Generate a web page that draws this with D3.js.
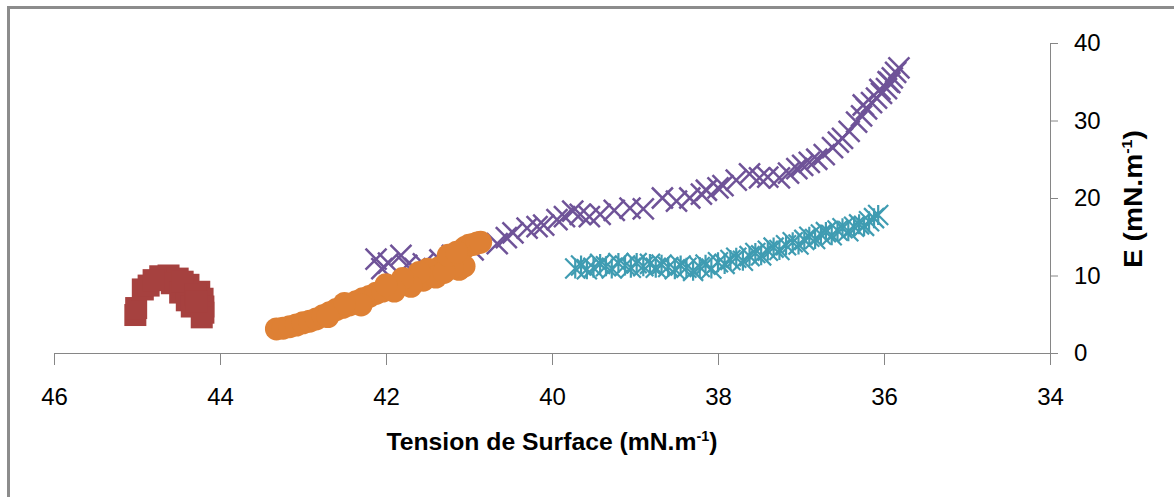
<!DOCTYPE html>
<html><head><meta charset="utf-8">
<script src="https://cdn.jsdelivr.net/npm/d3@7"></script>
<style>
html,body{margin:0;padding:0;background:#fff;}
svg{display:block;}
</style></head>
<body>
<svg id="c" width="1174" height="497"></svg>
<script>
// ---- data (Tension de Surface, E) ----
const xTicks = [46, 44, 42, 40, 38, 36, 34];
const yTicks = [0, 10, 20, 30, 40];
const xTitle = "Tension de Surface (mN.m";
const yTitle = "E (mN.m";

const redT = [45.02, 45.01, 44.93, 44.86, 44.72, 44.62, 44.51, 44.38, 44.25, 44.58, 44.48, 44.40, 44.34, 44.21, 44.20, 44.20, 44.22, 44.45, 44.30, 44.28, 44.80];
const redE = [4.9, 5.8, 8.2, 8.7, 9.9, 10.0, 9.6, 8.8, 7.9, 9.0, 7.8, 6.8, 6.0, 7.0, 6.0, 5.2, 4.6, 9.2, 7.5, 6.6, 9.4];

const orangeT = [43.32, 43.24, 43.16, 43.08, 43.00, 42.92, 42.84, 42.76, 42.68, 42.60, 42.52, 42.44, 42.36, 42.28, 42.20, 42.12, 42.04, 41.96, 41.88, 41.80, 41.72, 41.64, 41.56, 41.48, 41.42, 41.36, 41.30, 41.24, 41.18, 41.13, 41.09, 41.05, 41.00, 40.95, 40.90, 40.86, 41.12, 41.06, 41.20, 41.55, 41.50, 41.40, 41.60, 41.70, 41.80, 41.90, 42.00, 41.30, 41.25, 41.15, 42.30, 42.50, 42.70];
const orangeE = [3.1, 3.2, 3.4, 3.6, 3.9, 4.1, 4.4, 4.8, 5.2, 5.6, 5.9, 6.2, 6.6, 7.0, 7.3, 7.7, 8.0, 8.4, 8.7, 9.0, 9.3, 9.6, 9.9, 10.3, 10.6, 11.0, 11.3, 11.7, 12.0, 12.6, 13.2, 13.6, 13.9, 14.0, 14.2, 14.3, 10.8, 11.2, 11.0, 9.4, 10.8, 9.8, 10.4, 8.6, 9.6, 8.0, 8.8, 10.4, 12.6, 13.0, 6.2, 6.4, 4.7];

const purpleT = [42.12, 42.05, 41.97, 41.82, 41.75, 41.65, 41.55, 41.35, 41.20, 40.95, 40.66, 40.55, 40.47, 40.30, 40.18, 40.10, 39.94, 39.85, 39.75, 39.66, 39.55, 39.42, 39.25, 39.06, 38.90, 38.67, 38.50, 38.34, 38.20, 38.14, 38.00, 37.94, 37.78, 37.62, 37.50, 37.40, 37.26, 37.15, 37.05, 36.98, 36.90, 36.81, 36.72, 36.62, 36.55, 36.50, 36.42, 36.33, 36.27, 36.21, 36.15, 36.09, 36.03, 35.97, 35.93, 35.90, 35.86, 35.82, 35.95, 36.05, 36.25];
const purpleE = [12.1, 10.9, 11.6, 12.6, 11.3, 10.9, 11.5, 12.0, 12.6, 13.3, 14.1, 14.9, 15.5, 16.1, 16.3, 16.5, 17.2, 17.6, 18.3, 17.9, 17.6, 17.9, 18.4, 18.7, 18.6, 20.0, 19.6, 20.0, 20.5, 21.0, 21.3, 21.6, 22.3, 23.1, 22.6, 22.7, 22.6, 23.2, 23.8, 24.2, 24.6, 25.0, 25.6, 26.5, 27.2, 27.7, 28.6, 29.8, 30.6, 31.5, 32.3, 32.9, 33.5, 34.1, 34.9, 35.5, 36.2, 36.8, 35.0, 34.0, 32.0];

const tealT = [39.72, 39.65, 39.58, 39.50, 39.42, 39.35, 39.28, 39.20, 39.12, 39.05, 38.98, 38.90, 38.82, 38.75, 38.68, 38.60, 38.52, 38.45, 38.38, 38.30, 38.22, 38.15, 38.08, 38.00, 37.92, 37.85, 37.78, 37.70, 37.62, 37.55, 37.48, 37.40, 37.33, 37.26, 37.18, 37.10, 37.03, 36.96, 36.90, 36.83, 36.76, 36.70, 36.63, 36.56, 36.50, 36.43, 36.36, 36.30, 36.24, 36.18, 36.12, 36.07];
const tealE = [10.9, 11.3, 10.8, 11.0, 11.5, 11.2, 10.9, 11.6, 11.3, 11.0, 11.6, 11.2, 11.5, 11.0, 11.4, 11.1, 10.8, 11.3, 11.0, 10.6, 11.1, 11.4, 10.9, 11.7, 11.5, 12.0, 12.3, 11.9, 12.5, 12.9, 12.6, 13.2, 13.6, 13.3, 13.9, 14.3, 14.0, 14.6, 15.0, 14.7, 15.3, 15.6, 15.2, 15.8, 16.1, 15.7, 16.3, 16.6, 16.4, 17.0, 17.4, 17.8];

// ---- drawing ----
const svg = d3.select("#c");
const x = d3.scaleLinear().domain([46, 34]).range([54, 1050]);
const y = d3.scaleLinear().domain([0, 40]).range([353, 43]);
const axisColor = "#868686";
const font = "'Liberation Sans', Arial, sans-serif";

// outer frame (top + left)
svg.append("line").attr("x1", 7).attr("x2", 1174).attr("y1", 7.5).attr("y2", 7.5)
  .attr("stroke", "#8c8c8c").attr("stroke-width", 3);
svg.append("line").attr("x1", 8.5).attr("x2", 8.5).attr("y1", 6).attr("y2", 497)
  .attr("stroke", "#8c8c8c").attr("stroke-width", 3);

// axes
const gx = svg.append("g").attr("transform", `translate(0,${y(0)})`)
  .call(d3.axisBottom(x).tickValues(xTicks).tickSize(12).tickPadding(23).tickSizeOuter(0).tickFormat(d3.format("d")));
const gy = svg.append("g").attr("transform", `translate(${x(34)},0)`)
  .call(d3.axisRight(y).tickValues(yTicks).tickSize(8).tickPadding(16).tickSizeOuter(0).tickFormat(d3.format("d")));
[gx, gy].forEach(g => {
  g.select(".domain").attr("stroke", axisColor);
  g.selectAll(".tick line").attr("stroke", axisColor);
  g.selectAll(".tick text").attr("fill", "#000").style("font-family", font).style("font-size", "24px");
});

// series
const pts = (T, E) => T.map((t, i) => [t, E[i]]);
const S = 10.5; // half marker size

// purple X
svg.append("g").selectAll("path").data(pts(purpleT, purpleE)).join("path")
  .attr("d", d => { const cx = x(d[0]), cy = y(d[1]);
    return `M${cx - S},${cy - S}L${cx + S},${cy + S}M${cx - S},${cy + S}L${cx + S},${cy - S}`; })
  .attr("stroke", "#6f5398").attr("stroke-width", 2.5).attr("fill", "none");

// teal star
svg.append("g").selectAll("path").data(pts(tealT, tealE)).join("path")
  .attr("d", d => { const cx = x(d[0]), cy = y(d[1]); const s = 10;
    return `M${cx - s},${cy - s}L${cx + s},${cy + s}M${cx - s},${cy + s}L${cx + s},${cy - s}M${cx},${cy - s}L${cx},${cy + s}`; })
  .attr("stroke", "#3f9cb2").attr("stroke-width", 2.2).attr("fill", "none");

// red squares
svg.append("g").selectAll("rect").data(pts(redT, redE)).join("rect")
  .attr("x", d => x(d[0]) - 11).attr("y", d => y(d[1]) - 11)
  .attr("width", 22).attr("height", 22).attr("fill", "#a6413f");

// orange circles
svg.append("g").selectAll("circle").data(pts(orangeT, orangeE)).join("circle")
  .attr("cx", d => x(d[0])).attr("cy", d => y(d[1])).attr("r", 11.5).attr("fill", "#de8034");

// axis titles
const tx = svg.append("text").attr("x", 552).attr("y", 450).attr("text-anchor", "middle")
  .style("font-family", font).style("font-size", "24px").style("font-weight", "bold")
  .attr("textLength", 331).attr("lengthAdjust", "spacingAndGlyphs");
tx.append("tspan").text(xTitle);
tx.append("tspan").attr("dy", -9).style("font-size", "14px").text("-1");
tx.append("tspan").attr("dy", 9).text(")");

const ty = svg.append("text").attr("transform", "translate(1142,199) rotate(-90)").attr("text-anchor", "middle")
  .style("font-family", font).style("font-size", "26px").style("font-weight", "bold")
  .attr("textLength", 138).attr("lengthAdjust", "spacingAndGlyphs");
ty.append("tspan").text(yTitle);
ty.append("tspan").attr("dy", -10).style("font-size", "15px").text("-1");
ty.append("tspan").attr("dy", 10).text(")");
</script>
</body></html>
